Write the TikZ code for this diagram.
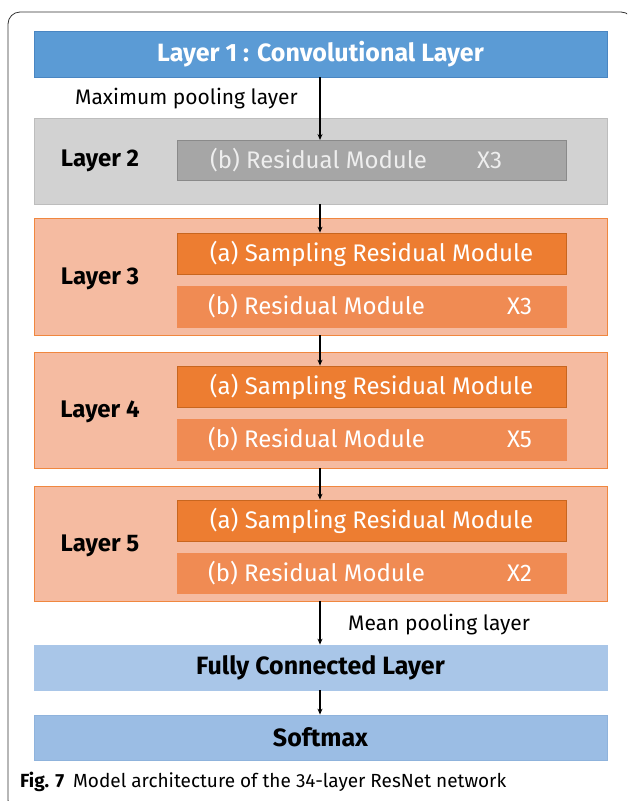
\documentclass[tikz,border=0pt]{standalone}
\usepackage{fontspec}
\setmainfont{Fira Sans}
\usetikzlibrary{arrows.meta}
\definecolor{blueA}{HTML}{5B9BD5}
\definecolor{blueAb}{HTML}{4A86C2}
\definecolor{blueB}{HTML}{A9C6E8}
\definecolor{blueC}{HTML}{9BBDE4}
\definecolor{blueBb}{HTML}{8FB3DC}
\definecolor{greyA}{HTML}{D2D2D2}
\definecolor{greyAb}{HTML}{BDBDBD}
\definecolor{greyB}{HTML}{A6A6A6}
\definecolor{greyBb}{HTML}{8A8A8A}
\definecolor{greyT}{HTML}{EEEEEE}
\definecolor{salmon}{HTML}{F5BBA1}
\definecolor{orangeb}{HTML}{F0873F}
\definecolor{orangeA}{HTML}{ED7D31}
\definecolor{orangeAb}{HTML}{C8661F}
\definecolor{orangeB}{HTML}{F08B53}
\definecolor{frameC}{HTML}{333333}
\tikzset{
  x=1pt,y=-1pt,
  box/.style={rectangle,inner sep=0pt,line width=0.8pt},
  wide/.style={box,minimum width=573pt},
  bigbold/.style={font=\fontsize{25}{29}\selectfont\bfseries},
  inner/.style={box,minimum width=389pt,minimum height=41pt,text=white,font=\fontsize{24}{28}\selectfont},
  lbl/.style={inner sep=0pt,font=\fontsize{24}{28}\selectfont\bfseries,text=black},
  arr/.style={-{Stealth[length=6pt,width=5pt]},line width=1.1pt,black},
  plain/.style={inner sep=0pt,font=\fontsize{21}{24}\selectfont,text=black}
}
\begin{document}
\begin{tikzpicture}
\useasboundingbox (0,0) rectangle (627,801);
\begin{scope}
\clip (0,0) rectangle (627,801);
\draw[frameC,line width=0.8pt,rounded corners=12pt] (8,12) rectangle (633,812);
\end{scope}
% layer 1
\node[wide,fill=blueA,draw=blueAb,minimum height=46pt,text=white,bigbold] (L1) at (320.5,54) {Layer 1 : Convolutional Layer};
\node[plain,anchor=west] (maxp) at (75,99) {Maximum pooling layer};
% layer 2
\node[wide,fill=greyA,draw=greyAb,minimum height=86pt] (L2) at (320.5,161) {};
\node[lbl] (L2t) at (100,161) {Layer 2};
\node[inner,fill=greyB,draw=greyBb,minimum height=40pt,text=greyT] (L2b) at (371.5,160) {\makebox[389pt]{\hspace{33pt}(b) Residual Module\hfill X3\hspace{64pt}}};
% layer 3
\node[wide,fill=salmon,draw=orangeb,minimum height=117pt] (L3) at (320.5,276.5) {};
\node[lbl] (L3t) at (100,279) {Layer 3};
\node[inner,fill=orangeA,draw=orangeAb] (L3a) at (371.5,253.5) {(a) Sampling Residual Module};
\node[inner,fill=orangeB,draw=orangeB] (L3b) at (371.5,306.5) {\makebox[389pt]{\hspace{31pt}(b) Residual Module\hfill X3\hspace{34pt}}};
% layer 4
\node[wide,fill=salmon,draw=orangeb,minimum height=116pt] (L4) at (320.5,410) {};
\node[lbl] (L4t) at (100,412) {Layer 4};
\node[inner,fill=orangeA,draw=orangeAb] (L4a) at (371.5,386.5) {(a) Sampling Residual Module};
\node[inner,fill=orangeB,draw=orangeB] (L4b) at (371.5,439.5) {\makebox[389pt]{\hspace{31pt}(b) Residual Module\hfill X5\hspace{34pt}}};
% layer 5
\node[wide,fill=salmon,draw=orangeb,minimum height=115pt] (L5) at (320.5,543.5) {};
\node[lbl] (L5t) at (100,546) {Layer 5};
\node[inner,fill=orangeA,draw=orangeAb] (L5a) at (371.5,520.5) {(a) Sampling Residual Module};
\node[inner,fill=orangeB,draw=orangeB,minimum height=40pt] (L5b) at (371.5,573) {\makebox[389pt]{\hspace{31pt}(b) Residual Module\hfill X2\hspace{34pt}}};
% bottom
\node[plain,anchor=west] (meanp) at (348,625) {Mean pooling layer};
\node[wide,fill=blueB,draw=blueB,minimum height=45pt,bigbold] (FC) at (320.5,667.5) {Fully Connected Layer};
\node[wide,fill=blueC,draw=blueBb,minimum height=45pt,bigbold] (SM) at (320.5,737.5) {Softmax};
\node[inner sep=0pt,font=\fontsize{19}{22}\selectfont,anchor=west] (cap) at (20,782) {\textbf{Fig. 7}\hspace{9pt}Model architecture of the 34-layer ResNet network};
% arrows
\draw[arr] (320,77) coordinate (a1s) -- (320,140) coordinate (a1e);
\draw[arr] (L2.south -| a1s) -- (L3a.north -| a1s);
\draw[arr] (L3.south -| a1s) -- (L4a.north -| a1s);
\draw[arr] (L4.south -| a1s) -- (L5a.north -| a1s);
\draw[arr] (L5.south -| a1s) -- (FC.north -| a1s);
\draw[arr] (FC.south -| a1s) -- (SM.north -| a1s);
\end{tikzpicture}
\end{document}
